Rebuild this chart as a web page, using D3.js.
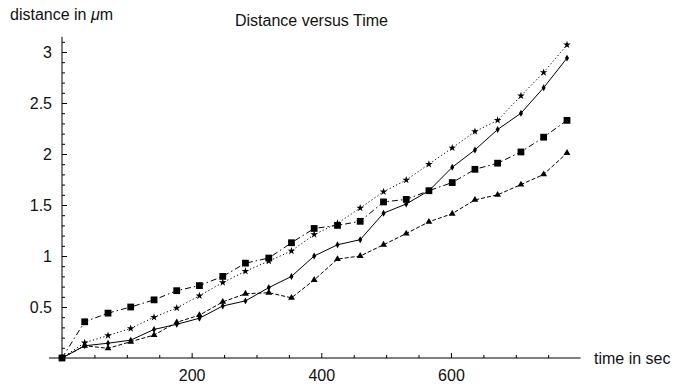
<!DOCTYPE html>
<html>
<head>
<meta charset="utf-8">
<script src="https://cdn.jsdelivr.net/npm/d3@7"></script>
<style>
  html, body { margin: 0; padding: 0; background: #fff; }
  svg { display: block; }
</style>
</head>
<body>
<div id="chart"></div>
<script>
// time points (sec)
const times = [0, 35, 71, 106, 142, 177, 212, 248, 283, 319, 354, 389, 425, 460, 496, 531, 566, 602, 637, 672, 708, 743, 779];

// distance series (µm)
const starSeries = [0, 0.15, 0.22, 0.29, 0.40, 0.49, 0.61, 0.74, 0.85, 0.95, 1.05, 1.21, 1.32, 1.47, 1.63, 1.745, 1.90, 2.06, 2.22, 2.33, 2.57, 2.80, 3.07];
const solidSeries = [0, 0.12, 0.145, 0.175, 0.28, 0.33, 0.39, 0.51, 0.56, 0.69, 0.80, 1.00, 1.11, 1.16, 1.42, 1.51, 1.64, 1.87, 2.04, 2.24, 2.40, 2.65, 2.94];
const squareSeries = [0, 0.355, 0.44, 0.50, 0.57, 0.66, 0.71, 0.80, 0.93, 0.98, 1.13, 1.27, 1.30, 1.34, 1.53, 1.555, 1.64, 1.72, 1.85, 1.91, 2.02, 2.165, 2.33];
const triangleSeries = [0, 0.12, 0.095, 0.16, 0.225, 0.35, 0.42, 0.55, 0.63, 0.64, 0.59, 0.765, 0.97, 1.00, 1.11, 1.22, 1.335, 1.415, 1.55, 1.60, 1.70, 1.80, 2.01];

const xMajorTicks = [200, 400, 600];
const yMajorTicks = [0.5, 1, 1.5, 2, 2.5, 3];

const width = 674, height = 384;
const FONT = "'Liberation Sans', Arial, Helvetica, sans-serif";

const svg = d3.select("#chart").append("svg")
    .attr("width", width)
    .attr("height", height);

svg.append("rect").attr("width", width).attr("height", height).attr("fill", "#fff");

const x = d3.scaleLinear().domain([0, 800]).range([62, 580.6]);
const y = d3.scaleLinear().domain([0, 3]).range([358, 52]);

// minor/major tick values
const xMinor = d3.range(50, 800, 50).filter(v => !xMajorTicks.includes(v));
const yMinor = d3.range(1, 32).map(v => v / 10).filter(v => Math.abs(v * 2 - Math.round(v * 2)) > 1e-6);

// x axis
const gx = svg.append("g").attr("transform", `translate(0,${y(0)})`);
gx.append("g")
    .call(d3.axisBottom(x).tickValues(xMinor).tickSize(-3).tickFormat(""))
    .call(g => g.select(".domain").remove());
gx.append("g")
    .call(d3.axisBottom(x).tickValues(xMajorTicks).tickSize(-5).tickPadding(12).tickFormat(d3.format("d")))
    .call(g => g.select(".domain").remove());
gx.append("line")
    .attr("x1", x(-20)).attr("x2", x(800))
    .attr("y1", 0).attr("y2", 0)
    .attr("stroke", "#000");

// y axis
const gy = svg.append("g").attr("transform", `translate(${x(0)},0)`);
gy.append("g")
    .call(d3.axisLeft(y).tickValues(yMinor).tickSize(-3).tickFormat(""))
    .call(g => g.select(".domain").remove());
gy.append("g")
    .call(d3.axisLeft(y).tickValues(yMajorTicks).tickSize(-5).tickPadding(10).tickFormat(d => d))
    .call(g => g.select(".domain").remove());
gy.append("line")
    .attr("x1", 0).attr("x2", 0)
    .attr("y1", y(0)).attr("y2", y(3.15))
    .attr("stroke", "#000");

svg.selectAll(".tick line").attr("stroke", "#000");
svg.selectAll(".tick text")
    .attr("font-family", FONT)
    .attr("font-size", "16px")
    .attr("fill", "#111");

// series
const series = [
    { values: triangleSeries, dash: "4,2", symbol: d3.symbolTriangle, size: 20 },
    { values: squareSeries, dash: "6,3,1.5,3", symbol: d3.symbolSquare, size: 46 },
    { values: solidSeries, dash: null, symbol: d3.symbolDiamond, size: 14 },
    { values: starSeries, dash: "1.2,2.4", symbol: d3.symbolStar, size: 18 }
];

const line = d3.line()
    .x((d, i) => x(times[i]))
    .y(d => y(d));

series.forEach(s => {
    svg.append("path")
        .datum(s.values)
        .attr("d", line)
        .attr("fill", "none")
        .attr("stroke", "#000")
        .attr("stroke-width", 1)
        .attr("stroke-dasharray", s.dash);

    svg.append("g").selectAll("path")
        .data(s.values)
        .enter().append("path")
        .attr("transform", (d, i) => `translate(${x(times[i])},${y(d)})`)
        .attr("d", d3.symbol().type(s.symbol).size(s.size))
        .attr("fill", "#000");
});

// labels
const yLabel = svg.append("text")
    .attr("x", 10)
    .attr("y", 20)
    .attr("font-family", FONT)
    .attr("font-size", "16px")
    .attr("fill", "#111");
yLabel.append("tspan").text("distance in ");
yLabel.append("tspan").attr("font-style", "italic").text("μ");
yLabel.append("tspan").text("m");

svg.append("text")
    .attr("x", 235)
    .attr("y", 26)
    .attr("font-family", FONT)
    .attr("font-size", "16px")
    .attr("fill", "#111")
    .text("Distance versus Time");

svg.append("text")
    .attr("x", 594)
    .attr("y", 364)
    .attr("font-family", FONT)
    .attr("font-size", "16px")
    .attr("fill", "#111")
    .text("time in sec");
</script>
</body>
</html>
